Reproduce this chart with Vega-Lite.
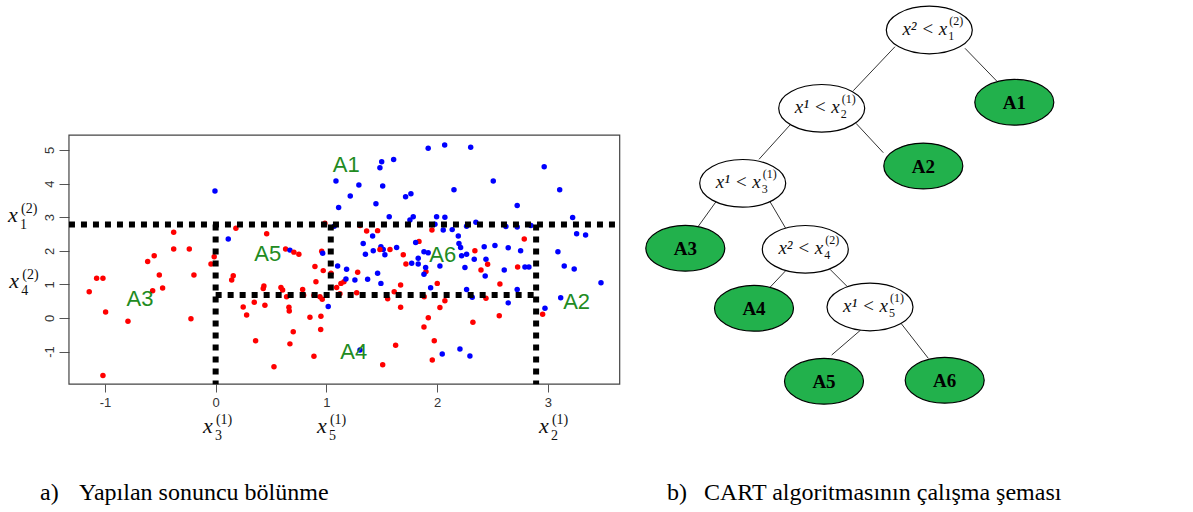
{
  "$schema": "https://vega.github.io/schema/vega-lite/v6.json",
  "width": 1193,
  "height": 512,
  "autosize": {"type": "none"},
  "padding": 0,
  "background": "white",
  "config": {"view": {"stroke": null}},
  "datasets": {
    "box": [{"x1": -1.325, "x2": 3.65, "y1": -1.97, "y2": 5.44}],
    "cuts": [
      {"x1": -1.325, "x2": 3.65, "y1": 2.78, "y2": 2.78},
      {"x1": 0, "x2": 0, "y1": 2.78, "y2": -1.97},
      {"x1": 0, "x2": 2.895, "y1": 0.685, "y2": 0.685},
      {"x1": 2.895, "x2": 2.895, "y1": 2.78, "y2": -1.97},
      {"x1": 1.04, "x2": 1.04, "y1": 2.78, "y2": 0.685}
    ],
    "regions": [
      {"x": 1.18, "y": 4.56, "label": "A1"},
      {"x": 3.261, "y": 0.485, "label": "A2"},
      {"x": -0.684, "y": 0.565, "label": "A3"},
      {"x": 1.248, "y": -1.003, "label": "A4"},
      {"x": 0.471, "y": 1.914, "label": "A5"},
      {"x": 2.051, "y": 1.875, "label": "A6"}
    ],
    "mathlabels": [
      {"x": -1.876, "y": 2.857, "sup": "(2)", "sub": "1"},
      {"x": -1.864, "y": 0.884, "sup": "(2)", "sub": "4"},
      {"x": -0.115, "y": -3.42, "sup": "(1)", "sub": "3"},
      {"x": 0.915, "y": -3.42, "sup": "(1)", "sub": "5"},
      {"x": 2.92, "y": -3.42, "sup": "(1)", "sub": "2"}
    ],
    "pts": [
      {"x": -0.379, "y": 2.55, "c": "r"}, {"x": -0.379, "y": 2.05, "c": "r"}, {"x": -0.238, "y": 2.05, "c": "r"},
      {"x": -0.555, "y": 1.85, "c": "r"}, {"x": -0.614, "y": 1.68, "c": "r"}, {"x": -0.509, "y": 1.28, "c": "r"},
      {"x": -1.075, "y": 1.18, "c": "r"}, {"x": -1.018, "y": 1.18, "c": "r"}, {"x": -1.142, "y": 0.78, "c": "r"},
      {"x": -0.569, "y": 0.81, "c": "r"}, {"x": -0.479, "y": 0.89, "c": "r"}, {"x": -0.196, "y": 1.28, "c": "r"},
      {"x": -0.042, "y": 1.61, "c": "r"}, {"x": -0.013, "y": 1.82, "c": "r"}, {"x": -0.994, "y": 0.18, "c": "r"},
      {"x": -0.792, "y": -0.10, "c": "r"}, {"x": -0.223, "y": -0.02, "c": "r"}, {"x": -1.018, "y": -1.71, "c": "r"},
      {"x": -0.006, "y": 3.78, "c": "b"}, {"x": 0.183, "y": 2.67, "c": "r"}, {"x": 0.114, "y": 2.35, "c": "b"},
      {"x": 0.461, "y": 2.51, "c": "r"}, {"x": 0.632, "y": 2.05, "c": "r"}, {"x": 0.671, "y": 2.02, "c": "b"},
      {"x": 0.707, "y": 1.96, "c": "r"}, {"x": 0.752, "y": 1.90, "c": "r"}, {"x": 0.159, "y": 1.26, "c": "r"},
      {"x": 0.145, "y": 1.13, "c": "r"}, {"x": 0.436, "y": 0.95, "c": "r"}, {"x": 0.43, "y": 0.88, "c": "r"},
      {"x": 0.59, "y": 0.91, "c": "r"}, {"x": 0.605, "y": 0.83, "c": "r"}, {"x": 0.641, "y": 0.63, "c": "r"},
      {"x": 0.786, "y": 0.85, "c": "r"}, {"x": 0.795, "y": 0.68, "c": "r"}, {"x": 0.888, "y": 0.68, "c": "r"},
      {"x": 0.906, "y": 1.08, "c": "r"}, {"x": 0.897, "y": 1.53, "c": "r"}, {"x": 0.972, "y": 1.41, "c": "r"},
      {"x": 0.942, "y": 0.63, "c": "r"}, {"x": 0.963, "y": 0.56, "c": "r"}, {"x": 0.958, "y": 1.99, "c": "r"},
      {"x": 0.967, "y": 1.93, "c": "b"}, {"x": 1.042, "y": 1.33, "c": "r"}, {"x": 1.093, "y": 0.91, "c": "r"},
      {"x": 1.132, "y": 1.03, "c": "r"}, {"x": 1.159, "y": 1.08, "c": "r"}, {"x": 1.123, "y": 0.72, "c": "r"},
      {"x": 1.274, "y": 0.75, "c": "r"}, {"x": 1.283, "y": 1.36, "c": "r"}, {"x": 1.102, "y": 1.55, "c": "b"},
      {"x": 1.183, "y": 1.45, "c": "b"}, {"x": 1.177, "y": 1.16, "c": "b"}, {"x": 1.258, "y": 1.13, "c": "b"},
      {"x": 1.373, "y": 1.15, "c": "b"}, {"x": 1.463, "y": 1.33, "c": "b"}, {"x": 1.493, "y": 1.03, "c": "b"},
      {"x": 1.613, "y": 0.78, "c": "r"}, {"x": 1.671, "y": 0.98, "c": "r"}, {"x": 1.554, "y": 0.57, "c": "r"},
      {"x": 1.671, "y": 0.32, "c": "r"}, {"x": 1.017, "y": 0.34, "c": "b"}, {"x": 0.249, "y": 0.33, "c": "r"},
      {"x": 0.28, "y": 0.09, "c": "r"}, {"x": 0.349, "y": 0.47, "c": "r"}, {"x": 0.445, "y": 0.38, "c": "r"},
      {"x": 0.662, "y": 0.32, "c": "r"}, {"x": 0.665, "y": 0.21, "c": "r"}, {"x": 0.852, "y": 0.02, "c": "r"},
      {"x": 0.951, "y": 0.05, "c": "r"}, {"x": 0.949, "y": -0.34, "c": "r"}, {"x": 0.701, "y": -0.41, "c": "r"},
      {"x": 0.361, "y": -0.68, "c": "r"}, {"x": 0.671, "y": -0.77, "c": "r"}, {"x": 0.888, "y": -1.14, "c": "r"},
      {"x": 0.527, "y": -1.45, "c": "r"}, {"x": 1.304, "y": -0.95, "c": "b"}, {"x": 1.626, "y": -0.81, "c": "r"},
      {"x": 1.509, "y": -1.39, "c": "r"}, {"x": 1.83, "y": 1.78, "c": "b"}, {"x": 1.771, "y": 1.63, "c": "b"},
      {"x": 1.83, "y": 1.61, "c": "b"}, {"x": 1.90, "y": 1.38, "c": "r"}, {"x": 1.882, "y": 1.30, "c": "b"},
      {"x": 1.897, "y": 1.50, "c": "b"}, {"x": 2.026, "y": 1.55, "c": "b"}, {"x": 2.252, "y": 1.50, "c": "b"},
      {"x": 2.336, "y": 1.75, "c": "b"}, {"x": 2.442, "y": 1.75, "c": "b"}, {"x": 2.397, "y": 1.43, "c": "r"},
      {"x": 2.457, "y": 1.60, "c": "r"}, {"x": 2.435, "y": 1.25, "c": "b"}, {"x": 2.607, "y": 1.43, "c": "b"},
      {"x": 2.728, "y": 1.52, "c": "r"}, {"x": 2.794, "y": 1.52, "c": "b"}, {"x": 2.83, "y": 1.52, "c": "b"},
      {"x": 3.149, "y": 1.55, "c": "b"}, {"x": 3.239, "y": 1.46, "c": "b"}, {"x": 3.481, "y": 1.05, "c": "b"},
      {"x": 2.002, "y": 1.03, "c": "r"}, {"x": 1.942, "y": 0.90, "c": "b"}, {"x": 1.884, "y": 0.63, "c": "r"},
      {"x": 2.071, "y": 0.51, "c": "r"}, {"x": 2.026, "y": 0.31, "c": "r"}, {"x": 2.267, "y": 0.85, "c": "b"},
      {"x": 2.318, "y": 0.62, "c": "b"}, {"x": 2.442, "y": 0.59, "c": "r"}, {"x": 2.568, "y": 1.01, "c": "r"},
      {"x": 2.724, "y": 0.85, "c": "b"}, {"x": 2.643, "y": 0.45, "c": "b"}, {"x": 2.562, "y": 0.07, "c": "r"},
      {"x": 1.921, "y": 0.01, "c": "r"}, {"x": 1.882, "y": -0.27, "c": "r"}, {"x": 2.324, "y": -0.13, "c": "r"},
      {"x": 1.975, "y": -0.68, "c": "r"}, {"x": 1.957, "y": -1.25, "c": "r"}, {"x": 2.047, "y": -1.07, "c": "b"},
      {"x": 2.207, "y": -0.92, "c": "b"}, {"x": 2.297, "y": -1.13, "c": "b"}, {"x": 3.117, "y": 0.60, "c": "b"},
      {"x": 2.975, "y": 0.29, "c": "b"}, {"x": 2.954, "y": 0.11, "c": "r"}, {"x": 2.968, "y": 4.50, "c": "b"},
      {"x": 3.108, "y": 3.82, "c": "b"}, {"x": 3.225, "y": 2.99, "c": "b"}, {"x": 3.261, "y": 2.51, "c": "b"},
      {"x": 3.342, "y": 2.47, "c": "b"}, {"x": 2.848, "y": 2.75, "c": "b"}, {"x": 3.092, "y": 1.97, "c": "b"},
      {"x": 1.92, "y": 5.05, "c": "b"}, {"x": 2.069, "y": 5.15, "c": "b"}, {"x": 2.304, "y": 5.08, "c": "b"},
      {"x": 2.508, "y": 4.08, "c": "b"}, {"x": 2.153, "y": 3.82, "c": "b"}, {"x": 1.764, "y": 3.70, "c": "b"},
      {"x": 2.724, "y": 3.35, "c": "b"}, {"x": 1.785, "y": 3.01, "c": "b"}, {"x": 1.996, "y": 3.01, "c": "b"},
      {"x": 2.071, "y": 3.00, "c": "b"}, {"x": 2.351, "y": 2.85, "c": "b"}, {"x": 2.267, "y": 2.73, "c": "b"},
      {"x": 1.981, "y": 2.79, "c": "b"}, {"x": 1.954, "y": 2.62, "c": "r"}, {"x": 2.056, "y": 2.62, "c": "b"},
      {"x": 2.137, "y": 2.63, "c": "b"}, {"x": 2.192, "y": 2.44, "c": "b"}, {"x": 2.622, "y": 2.72, "c": "b"},
      {"x": 2.724, "y": 2.71, "c": "b"}, {"x": 1.837, "y": 2.28, "c": "r"}, {"x": 1.807, "y": 2.25, "c": "b"},
      {"x": 2.198, "y": 2.22, "c": "b"}, {"x": 2.213, "y": 2.10, "c": "b"}, {"x": 2.788, "y": 2.35, "c": "r"},
      {"x": 2.342, "y": 2.00, "c": "r"}, {"x": 2.426, "y": 2.12, "c": "b"}, {"x": 2.523, "y": 2.16, "c": "b"},
      {"x": 2.643, "y": 2.09, "c": "b"}, {"x": 2.755, "y": 2.00, "c": "b"}, {"x": 1.882, "y": 1.97, "c": "b"},
      {"x": 1.92, "y": 1.94, "c": "b"}, {"x": 2.222, "y": 1.85, "c": "b"}, {"x": 2.267, "y": 1.90, "c": "b"},
      {"x": 1.50, "y": 4.65, "c": "b"}, {"x": 1.484, "y": 4.47, "c": "b"}, {"x": 1.608, "y": 4.72, "c": "b"},
      {"x": 1.087, "y": 4.08, "c": "b"}, {"x": 1.294, "y": 3.96, "c": "b"}, {"x": 1.509, "y": 3.93, "c": "b"},
      {"x": 1.216, "y": 3.63, "c": "b"}, {"x": 1.716, "y": 3.61, "c": "b"}, {"x": 1.448, "y": 3.40, "c": "b"},
      {"x": 1.111, "y": 3.29, "c": "b"}, {"x": 1.568, "y": 3.01, "c": "b"}, {"x": 1.755, "y": 2.92, "c": "b"},
      {"x": 0.987, "y": 2.82, "c": "r"}, {"x": 1.071, "y": 2.73, "c": "b"}, {"x": 1.304, "y": 2.75, "c": "r"},
      {"x": 1.364, "y": 2.59, "c": "r"}, {"x": 1.463, "y": 2.60, "c": "r"}, {"x": 1.418, "y": 2.44, "c": "b"},
      {"x": 1.333, "y": 2.22, "c": "b"}, {"x": 1.424, "y": 2.00, "c": "b"}, {"x": 1.493, "y": 2.12, "c": "b"},
      {"x": 1.514, "y": 2.04, "c": "b"}, {"x": 1.529, "y": 1.88, "c": "b"}, {"x": 1.575, "y": 2.04, "c": "r"},
      {"x": 1.635, "y": 2.10, "c": "b"}, {"x": 1.695, "y": 1.88, "c": "r"}, {"x": 1.353, "y": 1.90, "c": "b"},
      {"x": 1.484, "y": 2.04, "c": "r"}, {"x": 1.719, "y": 1.61, "c": "r"}
    ],
    "nodes": [
      {"tx": 4.88, "ty": 0, "main": "x² < x", "sup": "(2)", "sub": "1"},
      {"tx": 2.728, "ty": 1.566, "main": "x¹ < x", "sup": "(1)", "sub": "2"},
      {"tx": 1.148, "ty": 3.066, "main": "x¹ < x", "sup": "(1)", "sub": "3"},
      {"tx": 2.4, "ty": 4.386, "main": "x² < x", "sup": "(2)", "sub": "4"},
      {"tx": 3.694, "ty": 5.54, "main": "x¹ < x", "sup": "(1)", "sub": "5"}
    ],
    "leaves": [
      {"tx": 6.58, "ty": 1.446, "label": "A1"},
      {"tx": 4.76, "ty": 2.72, "label": "A2"},
      {"tx": 0, "ty": 4.366, "label": "A3"},
      {"tx": 1.374, "ty": 5.566, "label": "A4"},
      {"tx": 2.774, "ty": 7.026, "label": "A5"},
      {"tx": 5.188, "ty": 7.006, "label": "A6"}
    ],
    "edges": [
      {"tx1": 4.194, "ty1": 0.334, "tx2": 3.36, "ty2": 1.214},
      {"tx1": 5.594, "ty1": 0.366, "tx2": 6.228, "ty2": 1.02},
      {"tx1": 2.094, "ty1": 1.9, "tx2": 1.474, "ty2": 2.586},
      {"tx1": 3.414, "ty1": 1.866, "tx2": 3.96, "ty2": 2.454},
      {"tx1": 0.614, "ty1": 3.434, "tx2": 0.24, "ty2": 3.954},
      {"tx1": 1.694, "ty1": 3.434, "tx2": 2.008, "ty2": 3.966},
      {"tx1": 2.008, "ty1": 4.814, "tx2": 1.694, "ty2": 5.146},
      {"tx1": 2.894, "ty1": 4.786, "tx2": 3.228, "ty2": 5.12},
      {"tx1": 3.508, "ty1": 6.0, "tx2": 2.928, "ty2": 6.5},
      {"tx1": 4.314, "ty1": 5.866, "tx2": 4.86, "ty2": 6.566}
    ],
    "captions": [
      {"tx": -12.906, "ty": 9.4, "text": "a)"},
      {"tx": -12.126, "ty": 9.4, "text": "Yapılan sonuncu bölünme"},
      {"tx": -0.366, "ty": 9.4, "text": "b)"},
      {"tx": 0.374, "ty": 9.4, "text": "CART algoritmasının çalışma şeması"}
    ]
  },
  "layer": [
    {
      "layer": [
        {
          "data": {"name": "box"},
          "mark": {"type": "rect", "fillOpacity": 0, "stroke": "#444444", "strokeWidth": 1.2},
          "encoding": {
            "x": {
              "field": "x1", "type": "quantitative",
              "scale": {"domain": [-1.948, 8.829], "nice": false, "zero": false},
              "axis": {
                "orient": "bottom", "offset": -128, "values": [-1, 0, 1, 2, 3],
                "domain": false, "grid": false, "tickSize": 8, "tickColor": "#555555", "tickWidth": 1,
                "labelFont": "Liberation Sans", "labelFontSize": 13, "labelColor": "#333333",
                "labelPadding": 4, "labelFlush": false, "labelExpr": "'' + datum.value", "title": null
              }
            },
            "x2": {"field": "x2"},
            "y": {
              "field": "y1", "type": "quantitative",
              "scale": {"domain": [-5.774, 9.464], "nice": false, "zero": false},
              "axis": {
                "orient": "left", "offset": -69, "values": [-1, 0, 1, 2, 3, 4, 5],
                "domain": false, "grid": false, "tickSize": 10, "tickColor": "#555555", "tickWidth": 1,
                "labelFont": "Liberation Sans", "labelFontSize": 13, "labelColor": "#333333",
                "labelAngle": -90, "labelAlign": "center", "labelBaseline": "alphabetic",
                "labelPadding": 6, "labelFlush": false, "labelExpr": "'' + datum.value", "title": null
              }
            },
            "y2": {"field": "y2"}
          }
        },
        {
          "data": {"name": "pts"},
          "mark": {"type": "circle", "size": 30, "opacity": 1},
          "encoding": {
            "x": {"field": "x", "type": "quantitative"},
            "y": {"field": "y", "type": "quantitative"},
            "color": {"field": "c", "type": "nominal", "scale": {"domain": ["r", "b"], "range": ["#FF0000", "#0000FF"]}, "legend": null}
          }
        },
        {
          "data": {"name": "cuts"},
          "mark": {"type": "rule", "color": "black", "strokeWidth": 6, "strokeDash": [6, 6]},
          "encoding": {
            "x": {"field": "x1", "type": "quantitative"},
            "x2": {"field": "x2"},
            "y": {"field": "y1", "type": "quantitative"},
            "y2": {"field": "y2"}
          }
        },
        {
          "data": {"name": "regions"},
          "mark": {"type": "text", "font": "Liberation Sans", "fontSize": 22, "color": "#228B22", "align": "center", "baseline": "middle"},
          "encoding": {
            "x": {"field": "x", "type": "quantitative"},
            "y": {"field": "y", "type": "quantitative"},
            "text": {"field": "label"}
          }
        },
        {
          "data": {"name": "mathlabels"},
          "mark": {"type": "text", "text": "x", "font": "Liberation Serif", "fontStyle": "italic", "fontSize": 22, "color": "#111111", "align": "left", "baseline": "alphabetic"},
          "encoding": {
            "x": {"field": "x", "type": "quantitative"},
            "y": {"field": "y", "type": "quantitative"}
          }
        },
        {
          "data": {"name": "mathlabels"},
          "mark": {"type": "text", "font": "Liberation Serif", "fontSize": 14, "color": "#111111", "align": "left", "baseline": "alphabetic", "dx": 13, "dy": -9},
          "encoding": {
            "x": {"field": "x", "type": "quantitative"},
            "y": {"field": "y", "type": "quantitative"},
            "text": {"field": "sup"}
          }
        },
        {
          "data": {"name": "mathlabels"},
          "mark": {"type": "text", "font": "Liberation Serif", "fontSize": 14, "color": "#111111", "align": "left", "baseline": "alphabetic", "dx": 12, "dy": 7},
          "encoding": {
            "x": {"field": "x", "type": "quantitative"},
            "y": {"field": "y", "type": "quantitative"},
            "text": {"field": "sub"}
          }
        }
      ]
    },
    {
      "layer": [
        {
          "data": {"name": "edges"},
          "mark": {"type": "rule", "color": "#333333", "strokeWidth": 1},
          "encoding": {
            "x": {"field": "tx1", "type": "quantitative", "scale": {"domain": [-13.706, 10.154], "nice": false, "zero": false}, "axis": null},
            "x2": {"field": "tx2"},
            "y": {"field": "ty1", "type": "quantitative", "scale": {"domain": [-0.6, 9.64], "nice": false, "zero": false, "reverse": true}, "axis": null},
            "y2": {"field": "ty2"}
          }
        },
        {
          "data": {"name": "nodes"},
          "mark": {"type": "point", "shape": "M1,0C1,0.3054 0.552,0.553 0,0.553C-0.552,0.553 -1,0.3054 -1,0C-1,-0.3054 -0.552,-0.553 0,-0.553C0.552,-0.553 1,-0.3054 1,0Z", "size": 7396, "filled": true, "fill": "white", "stroke": "black", "strokeWidth": 1.2, "opacity": 1},
          "encoding": {
            "x": {"field": "tx", "type": "quantitative"},
            "y": {"field": "ty", "type": "quantitative"}
          }
        },
        {
          "data": {"name": "leaves"},
          "mark": {"type": "point", "shape": "M1,0C1,0.3203 0.552,0.58 0,0.58C-0.552,0.58 -1,0.3203 -1,0C-1,-0.3203 -0.552,-0.58 0,-0.58C0.552,-0.58 1,-0.3203 1,0Z", "size": 6241, "filled": true, "fill": "#22B14C", "stroke": "black", "strokeWidth": 1.2, "opacity": 1},
          "encoding": {
            "x": {"field": "tx", "type": "quantitative"},
            "y": {"field": "ty", "type": "quantitative"}
          }
        },
        {
          "data": {"name": "leaves"},
          "mark": {"type": "text", "font": "Liberation Serif", "fontWeight": "bold", "fontSize": 19, "color": "black", "align": "center", "baseline": "middle", "dy": 1},
          "encoding": {
            "x": {"field": "tx", "type": "quantitative"},
            "y": {"field": "ty", "type": "quantitative"},
            "text": {"field": "label"}
          }
        },
        {
          "data": {"name": "nodes"},
          "mark": {"type": "text", "font": "Liberation Serif", "fontStyle": "italic", "fontSize": 19, "color": "#111111", "align": "right", "baseline": "alphabetic", "dx": 18, "dy": 5},
          "encoding": {
            "x": {"field": "tx", "type": "quantitative"},
            "y": {"field": "ty", "type": "quantitative"},
            "text": {"field": "main"}
          }
        },
        {
          "data": {"name": "nodes"},
          "mark": {"type": "text", "font": "Liberation Serif", "fontSize": 12, "color": "#111111", "align": "left", "baseline": "alphabetic", "dx": 20, "dy": -5},
          "encoding": {
            "x": {"field": "tx", "type": "quantitative"},
            "y": {"field": "ty", "type": "quantitative"},
            "text": {"field": "sup"}
          }
        },
        {
          "data": {"name": "nodes"},
          "mark": {"type": "text", "font": "Liberation Serif", "fontSize": 12, "color": "#111111", "align": "left", "baseline": "alphabetic", "dx": 19, "dy": 10},
          "encoding": {
            "x": {"field": "tx", "type": "quantitative"},
            "y": {"field": "ty", "type": "quantitative"},
            "text": {"field": "sub"}
          }
        },
        {
          "data": {"name": "captions"},
          "mark": {"type": "text", "font": "Liberation Serif", "fontSize": 24, "color": "black", "align": "left", "baseline": "alphabetic"},
          "encoding": {
            "x": {"field": "tx", "type": "quantitative"},
            "y": {"field": "ty", "type": "quantitative"},
            "text": {"field": "text"}
          }
        }
      ]
    }
  ],
  "resolve": {"scale": {"x": "independent", "y": "independent"}}
}
